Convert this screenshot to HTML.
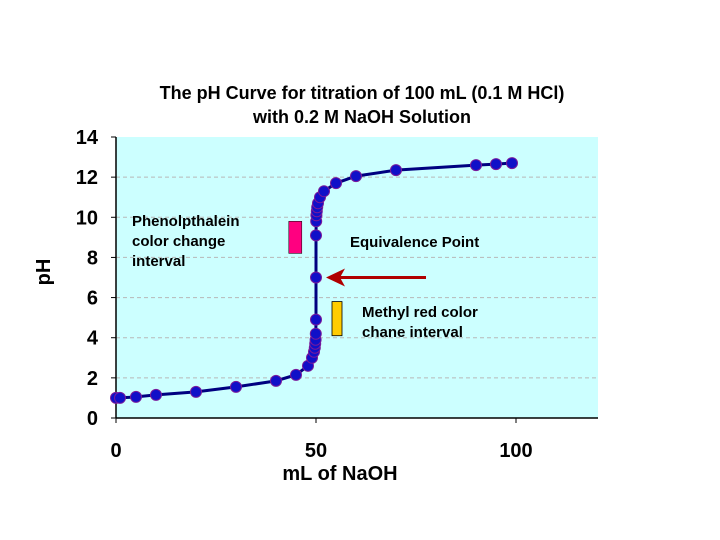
<!DOCTYPE html>
<html><head><meta charset="utf-8"><style>
body{margin:0;background:#fff;}
svg{display:block;font-family:"Liberation Sans",sans-serif;}
</style></head><body>
<svg id="c" width="720" height="540">
<rect x="0" y="0" width="720" height="540" fill="#fff"/>
<text x="362" y="99" text-anchor="middle" font-size="18" font-weight="bold">The pH Curve for titration of 100 mL (0.1 M HCl)</text>
<text x="362" y="123" text-anchor="middle" font-size="18" font-weight="bold">with 0.2 M NaOH Solution</text>
<rect x="116" y="137" width="482" height="281" fill="#ccffff"/>
<g id="grid"></g><g id="axes"></g><g id="marks"></g><g id="annot"></g>
<text x="340" y="480" text-anchor="middle" font-size="20" font-weight="bold">mL of NaOH</text>
<text transform="translate(50,272) rotate(-90)" text-anchor="middle" font-size="20" font-weight="bold">pH</text>
</svg>
<script>
const volumes=[0,1,5,10,20,30,40,45,48,49,49.5,49.7,49.8,49.9,49.95,50,50,50,50.05,50.1,50.2,50.3,50.5,51,52,55,60,70,90,95,99];
const phValues=[1.0,1.0,1.05,1.15,1.3,1.55,1.85,2.15,2.6,3.0,3.3,3.5,3.7,3.9,4.2,4.9,7.0,9.1,9.8,10.1,10.3,10.5,10.7,11.0,11.3,11.7,12.05,12.35,12.6,12.65,12.7];
const yTicks=[0,2,4,6,8,10,12,14];
const xTicks=[0,50,100];
const phenolRange=[8.2,9.8];
const methylRange=[4.1,5.8];
const equivPH=7;
const NS="http://www.w3.org/2000/svg";
const X=v=>116+v*4;
const Y=p=>418-p*(281/14);
function mk(t,a,parent){const e=document.createElementNS(NS,t);for(const k in a)e.setAttribute(k,a[k]);document.getElementById(parent).appendChild(e);return e;}
yTicks.forEach(t=>{
  if(t>0&&t<14){const g=mk('line',{x1:116,x2:598,y1:Y(t),y2:Y(t),stroke:'#b8b8b8','stroke-dasharray':'4,3','stroke-width':1},'grid');
  
  }
  const tk=mk('line',{x1:111,x2:116,y1:Y(t),y2:Y(t),stroke:'#000'},'axes');
  
  
  const l=mk('text',{x:98,y:Y(t)+7,'text-anchor':'end','font-size':20,'font-weight':'bold'},'axes');l.textContent=t;
  
  
});
xTicks.forEach(t=>{
  const tk=mk('line',{x1:X(t),x2:X(t),y1:418,y2:423,stroke:'#000'},'axes');
  
  
  const l=mk('text',{x:X(t),y:457,'text-anchor':'middle','font-size':20,'font-weight':'bold'},'axes');l.textContent=t;
  
  
});
const ya=mk('line',{x1:116,x2:116,y1:137,y2:418,stroke:'#000','stroke-width':1.5},'axes');


const xa=mk('line',{x1:116,x2:598,y1:418,y2:418,stroke:'#000','stroke-width':1.5},'axes');


const pl=mk('polyline',{points:volumes.map((v,i)=>X(v)+','+Y(phValues[i])).join(' '),fill:'none',stroke:'#000080','stroke-width':3},'marks');


volumes.forEach((v,i)=>{
  const c=mk('circle',{cx:X(v),cy:Y(phValues[i]),r:5.5,fill:'#1010c8',stroke:'#7a1a9a','stroke-width':1},'marks');
  
  
});
const pr=mk('rect',{x:X(43.2),y:Y(phenolRange[1]),width:13,height:Y(phenolRange[0])-Y(phenolRange[1]),fill:'#ff0080',stroke:'#000','stroke-width':0.5},'annot');


const yr=mk('rect',{x:X(54),y:Y(methylRange[1]),width:10,height:Y(methylRange[0])-Y(methylRange[1]),fill:'#ffcc00',stroke:'#000','stroke-width':0.8},'annot');


const ar=mk('line',{x1:426,x2:340,y1:Y(equivPH),y2:Y(equivPH),stroke:'#b00000','stroke-width':3},'annot');


const ah=mk('polygon',{points:`326,${Y(equivPH)} 345,${Y(equivPH)-9} 340,${Y(equivPH)} 345,${Y(equivPH)+9}`,fill:'#b00000'},'annot');


function txt(lines,x,y,name){lines.forEach((s,i)=>{const t=mk('text',{x:x,y:y+i*20,'font-size':15,'font-weight':'bold'},'annot');t.textContent=s;

});}
txt(['Phenolpthalein','color change','interval'],132,226,'phenolphthalein-label');
txt(['Equivalence Point'],350,247,'equivalence-label');
txt(['Methyl red color','chane interval'],362,317,'methyl-red-label');
</script>
</body></html>
